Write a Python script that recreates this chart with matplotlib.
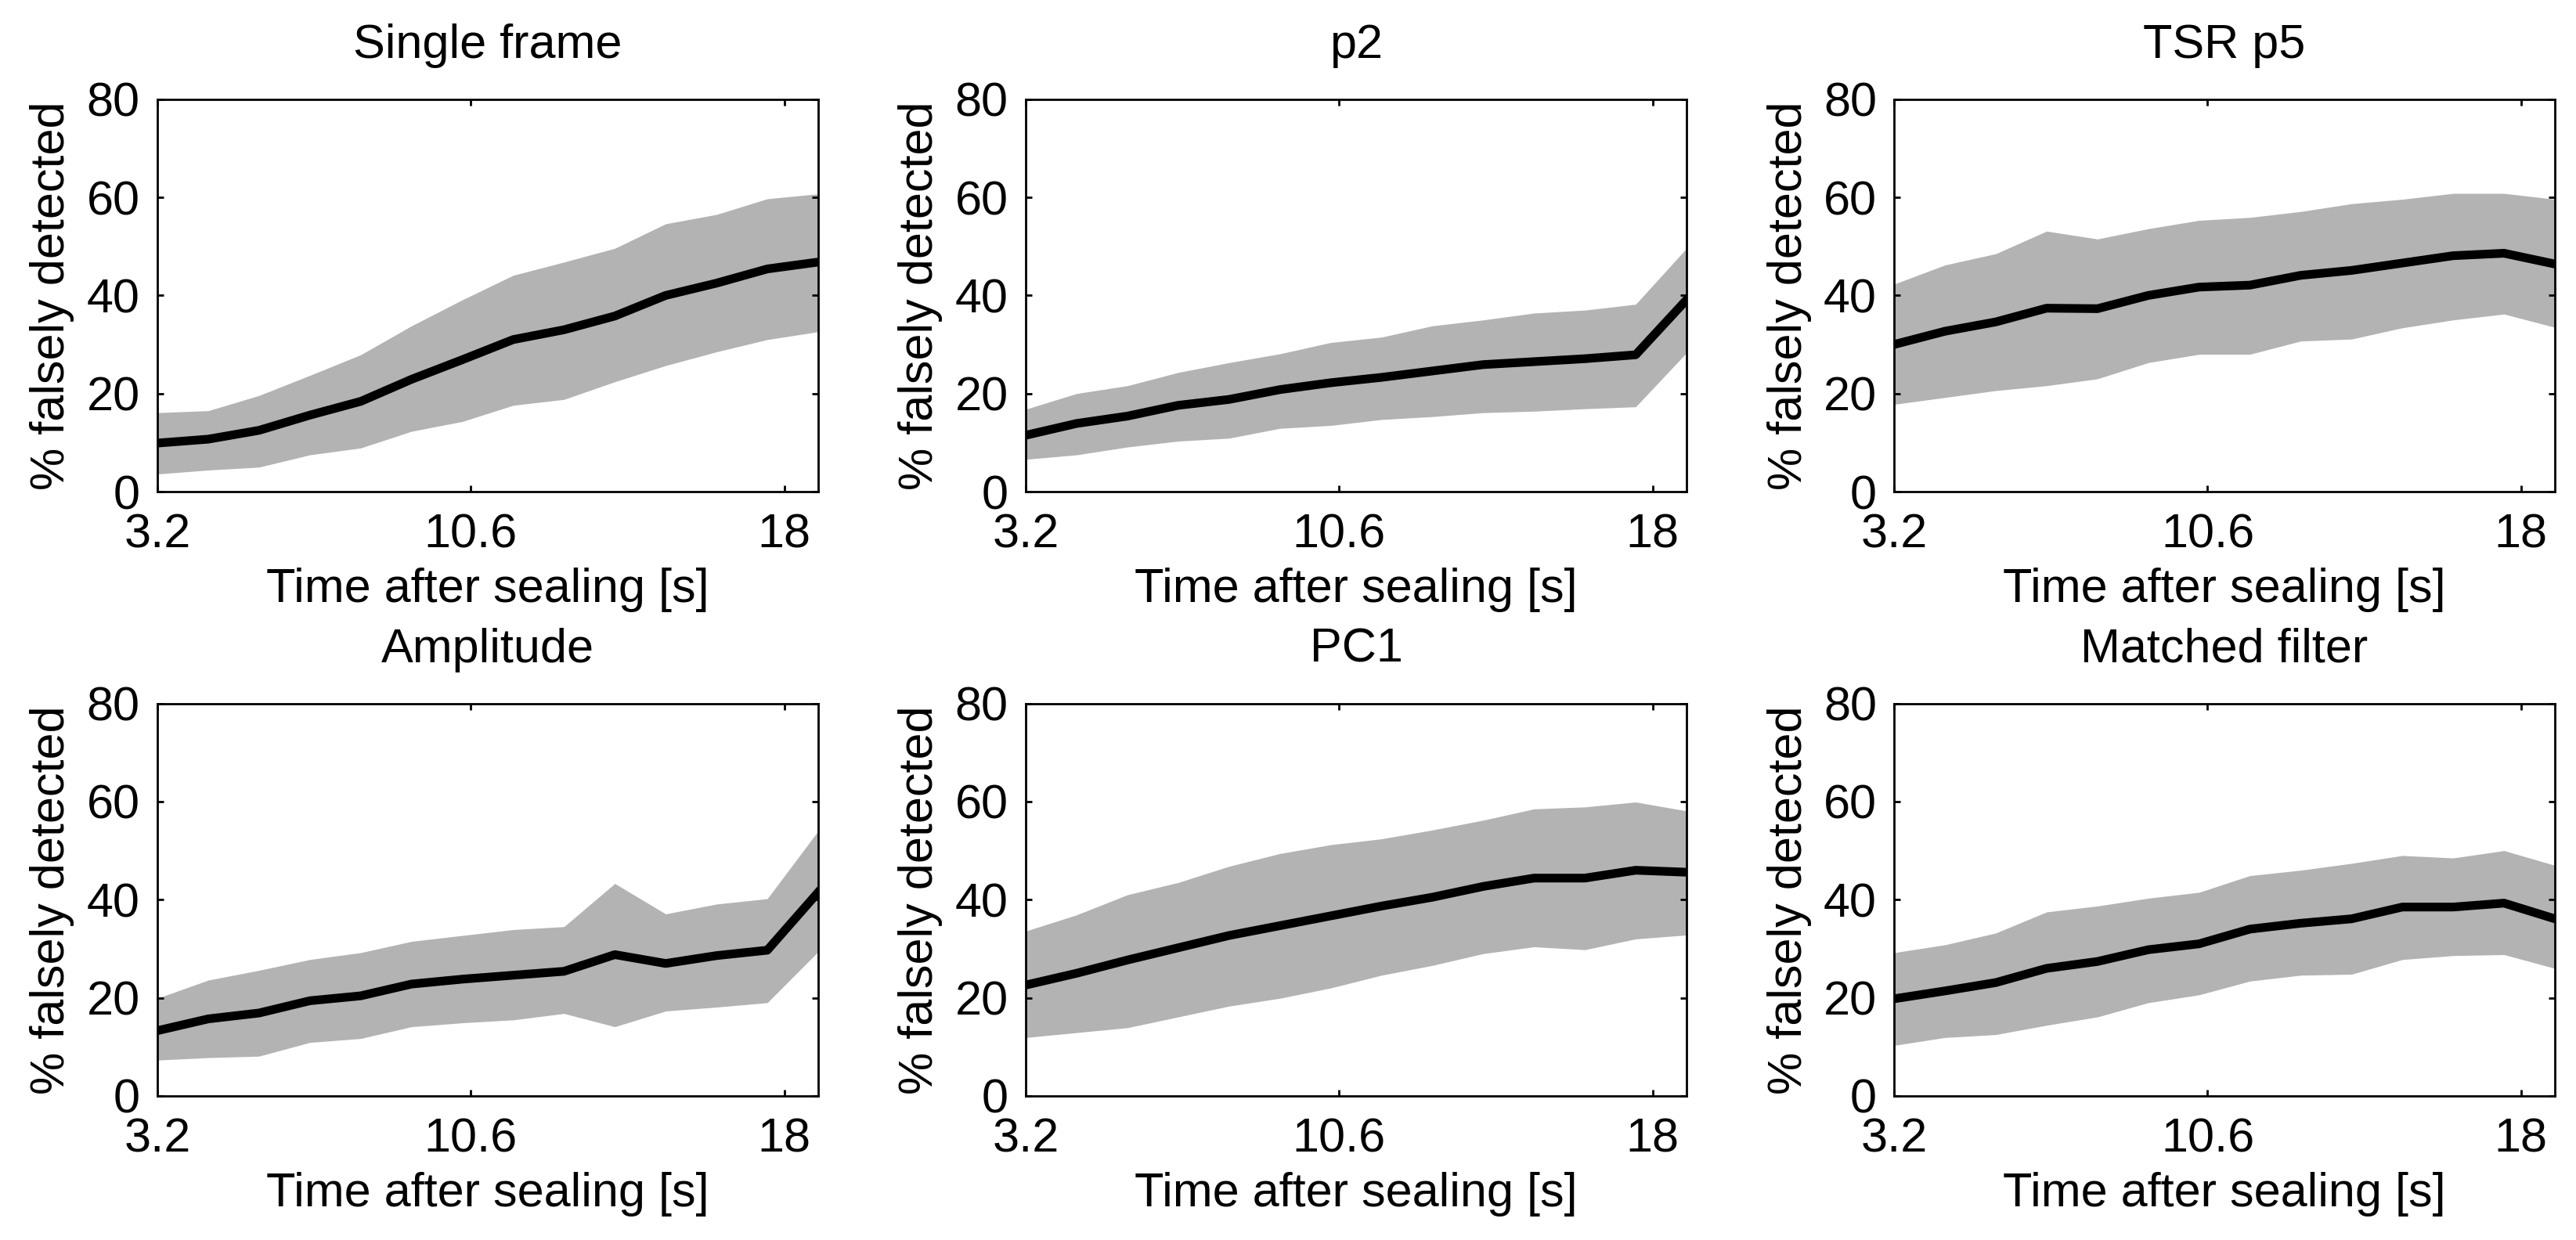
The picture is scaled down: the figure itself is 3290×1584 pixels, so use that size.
import matplotlib
matplotlib.use("Agg")
import matplotlib.pyplot as plt

# --- time axis (s) ---
time_s = [3.2, 4.4, 5.6, 6.8, 8.0, 9.2, 10.4, 11.6, 12.8, 14.0, 15.2, 16.4, 17.6, 18.8]

# --- % falsely detected: mean, lower and upper band per method ---
single_mean = [9.9, 10.7, 12.5, 15.6, 18.4, 22.9, 26.9, 31.0, 33.0, 35.8, 40.0, 42.5, 45.4, 46.8]
single_low = [3.6, 4.4, 5.0, 7.5, 8.9, 12.3, 14.3, 17.6, 18.8, 22.4, 25.7, 28.5, 31.0, 32.6]
single_high = [16.1, 16.5, 19.6, 23.7, 27.9, 33.8, 39.1, 44.1, 46.8, 49.6, 54.6, 56.5, 59.7, 60.7]

p2_mean = [11.5, 13.9, 15.4, 17.6, 18.8, 20.8, 22.2, 23.3, 24.6, 25.9, 26.5, 27.1, 27.9, 39.1]
p2_low = [6.6, 7.5, 9.1, 10.3, 10.9, 12.9, 13.5, 14.7, 15.3, 16.1, 16.4, 16.9, 17.3, 28.3]
p2_high = [16.8, 20.0, 21.6, 24.3, 26.3, 28.1, 30.4, 31.5, 33.8, 35.0, 36.4, 37.0, 38.2, 49.6]

tsr_mean = [30.0, 32.7, 34.6, 37.4, 37.3, 40.0, 41.7, 42.1, 44.1, 45.1, 46.6, 48.1, 48.6, 46.4]
tsr_low = [17.8, 19.2, 20.6, 21.6, 23.0, 26.3, 28.0, 28.0, 30.7, 31.1, 33.4, 35.0, 36.2, 33.5]
tsr_high = [42.3, 46.2, 48.5, 53.1, 51.5, 53.6, 55.3, 55.9, 57.1, 58.7, 59.6, 60.8, 60.8, 59.6]

amp_mean = [13.3, 15.7, 16.9, 19.4, 20.4, 22.8, 23.8, 24.6, 25.4, 28.8, 27.0, 28.6, 29.7, 41.5]
amp_low = [7.3, 7.8, 8.1, 10.9, 11.7, 14.1, 14.9, 15.5, 16.8, 14.1, 17.3, 18.1, 19.0, 29.4]
amp_high = [19.9, 23.6, 25.6, 27.8, 29.2, 31.5, 32.7, 33.9, 34.5, 43.3, 37.1, 39.1, 40.2, 54.0]

pc1_mean = [22.6, 25.0, 27.7, 30.2, 32.7, 34.7, 36.7, 38.7, 40.5, 42.7, 44.4, 44.4, 46.0, 45.6]
pc1_low = [11.9, 12.9, 13.9, 16.1, 18.3, 19.9, 22.0, 24.6, 26.6, 29.0, 30.4, 29.8, 32.0, 32.8]
pc1_high = [33.6, 36.9, 41.0, 43.5, 46.8, 49.4, 51.2, 52.4, 54.2, 56.2, 58.5, 58.9, 59.9, 58.1]

mf_mean = [19.8, 21.4, 23.1, 26.0, 27.4, 29.8, 31.0, 34.0, 35.2, 36.1, 38.5, 38.5, 39.3, 36.1]
mf_low = [10.3, 11.9, 12.5, 14.4, 16.1, 19.0, 20.6, 23.4, 24.6, 24.8, 27.8, 28.6, 28.8, 26.0]
mf_high = [29.2, 30.8, 33.2, 37.5, 38.7, 40.3, 41.5, 44.9, 46.0, 47.4, 49.0, 48.5, 50.0, 47.0]

titles = ["Single frame", "p2", "TSR p5", "Amplitude", "PC1", "Matched filter"]
means = [single_mean, p2_mean, tsr_mean, amp_mean, pc1_mean, mf_mean]
lows = [single_low, p2_low, tsr_low, amp_low, pc1_low, mf_low]
highs = [single_high, p2_high, tsr_high, amp_high, pc1_high, mf_high]

x_ticks = [3.2, 10.6, 18]
x_ticklabels = ["3.2", "10.6", "18"]
y_ticks = [0, 20, 40, 60, 80]

plt.rcParams["font.family"] = ["Liberation Sans", "DejaVu Sans"]
plt.rcParams["font.size"] = 44

fig = plt.figure(figsize=(32.9, 15.84), dpi=100)

col_left = [0.0611, 0.3982, 0.7353]
row_bottom = [0.6035, 0.1162]
ax_w, ax_h = 0.2565, 0.3165

for i, title in enumerate(titles):
    r, c = divmod(i, 3)
    ax = fig.add_axes([col_left[c], row_bottom[r], ax_w, ax_h])
    ax.fill_between(time_s, lows[i], highs[i], color="#b3b3b3", linewidth=0)
    ax.plot(time_s, means[i], color="black", linewidth=8)

    ax.set_xlim(3.2, 18.8)
    ax.set_ylim(0, 80)
    ax.set_xticks(x_ticks)
    ax.set_xticklabels(x_ticklabels)
    ax.set_yticks(y_ticks)
    ax.tick_params(axis="both", direction="in", length=5.5, width=2,
                   top=True, right=True, labelsize=44)
    ax.tick_params(axis="x", pad=20)
    ax.tick_params(axis="y", pad=16)
    for sp in ax.spines.values():
        sp.set_linewidth(2)

    ax.set_title(title, fontsize=44, pad=38)
    ax.set_xlabel("Time after sealing [s]", fontsize=44, labelpad=9)
    ax.set_ylabel("% falsely detected", fontsize=44, labelpad=11)

fig.savefig("out.png", dpi=100, facecolor="white")
